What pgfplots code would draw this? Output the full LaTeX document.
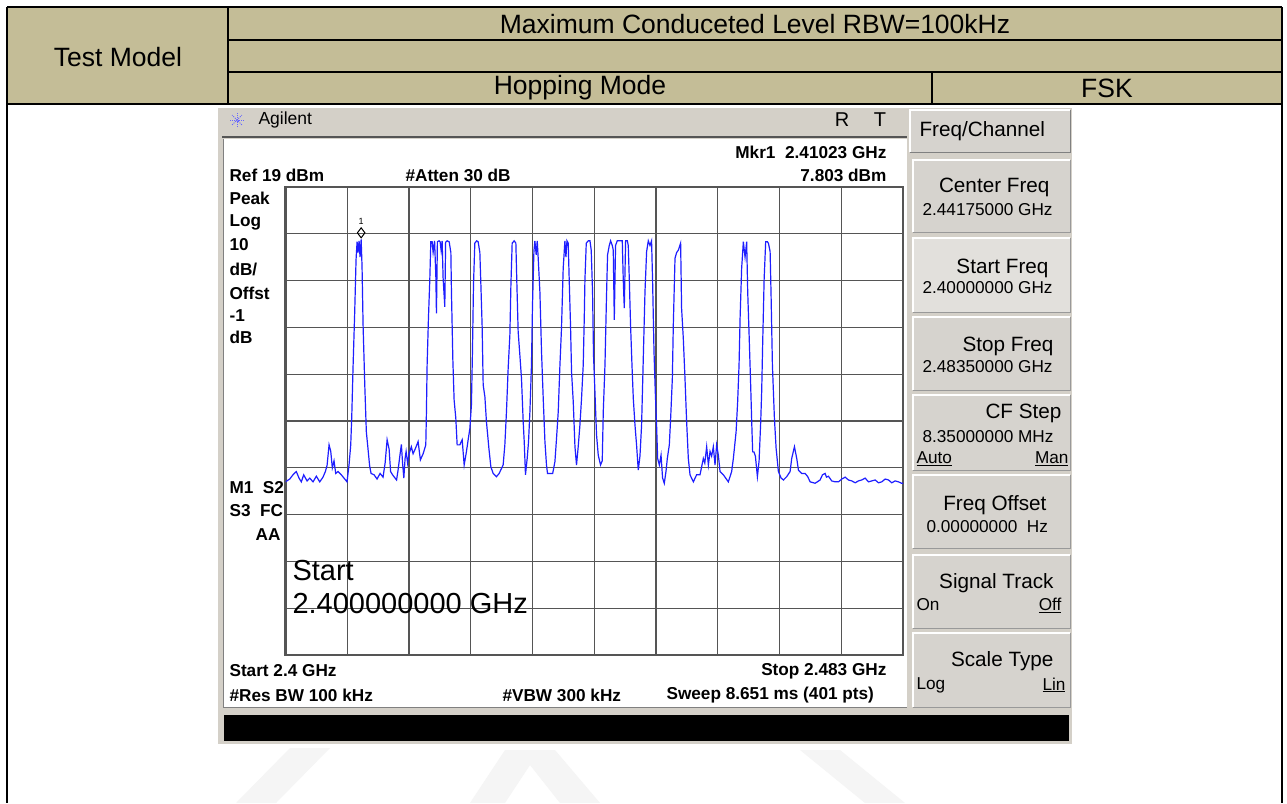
\documentclass[border=0pt]{standalone}
\usepackage{pgfplots}
\pgfplotsset{compat=1.18}
\usepackage{fontspec}
\setmainfont{Liberation Sans}
\definecolor{hdr}{RGB}{196,189,151}
\definecolor{panel}{RGB}{212,208,200}
\definecolor{btn}{RGB}{214,211,206}
\definecolor{btnl}{RGB}{226,224,220}
\definecolor{gridc}{RGB}{85,85,85}
\definecolor{traceblue}{RGB}{30,30,255}
\definecolor{wm}{RGB}{245,245,245}
\newcommand{\fs}[1]{\fontsize{#1}{#1}\selectfont}
\begin{document}
\begin{tikzpicture}
\begin{scope}[x=1pt,y=-1pt]
\useasboundingbox (0,0) rectangle (1287,803);
\fill[white] (0,0) rectangle (1287,803);
% watermark
\fill[wm] (236,803) -- (290,748) -- (330,748) -- (276,803) -- cycle;
\fill[wm] (470,803) -- (505,750) -- (555,750) -- (600,803) -- (560,803) -- (530,765) -- (505,803) -- cycle;
\fill[wm] (800,750) -- (840,750) -- (905,803) -- (865,803) -- cycle;
% header table
\fill[hdr] (7,7) rectangle (1282,104);
\draw[line width=1.6pt] (7,7) -- (1282,7);
\draw[line width=1.6pt] (7,7) -- (7,803);
\draw[line width=1.6pt] (1282,7) -- (1282,803);
\draw[line width=1.6pt] (7,104) -- (1282,104);
\draw[line width=1.6pt] (228,40) -- (1282,40);
\draw[line width=1.6pt] (228,72) -- (1282,72);
\draw[line width=1.6pt] (228,7) -- (228,104);
\draw[line width=1.6pt] (932,72) -- (932,104);
\node[font=\fs{26.5}] at (755,24) {Maximum Conduceted Level RBW=100kHz};
\node[font=\fs{26.5}] at (118,57) {Test Model};
\node[font=\fs{26.5}] at (580,88) {Hopping Mode};
\node[font=\fs{26.5}] at (1107,88) {FSK};
% analyzer panel
\fill[panel] (218,108) rectangle (1072,744);
\fill[white] (223,139) rectangle (907,707);
\draw[gridc, line width=1.5pt] (222,137) -- (907,137);
\draw[gray, line width=0.8pt] (223,139) -- (223,707) -- (907,707);
% star icon
\foreach \a in {0,45,90,135} {\draw[blue!60, line width=0.8pt, dash pattern=on 1.2pt off 1pt] (237,120) ++(\a:7) -- ++(\a+180:14);}
\node[anchor=west, font=\fs{17.5}] at (255,120) {Agilent};
\node[font=\fs{20}] at (842,120) {R};
\node[font=\fs{20}] at (880,120) {T};
% softkeys
\fill[btn] (910,110) rectangle (1070,152);
\draw[white, line width=1.2pt] (910,152) -- (910,110) -- (1070,110);
\draw[gray, line width=1pt] (1070,110) -- (1070,152) -- (910,152);
\node[anchor=west, font=\fs{20.7}] at (916,131) {Freq/Channel};
\foreach \t/\b/\c in {160/232/btn,238/312/btnl,317/390/btn,395/470/btn,475/548/btn,555/628/btn,633/707/btn} {
  \fill[\c] (913,\t) rectangle (1070,\b);
  \draw[white, line width=1.5pt] (913,\b) -- (913,\t) -- (1070,\t);
  \draw[gray!80, line width=1pt] (1070,\t) -- (1070,\b) -- (913,\b);
}
\node[anchor=east, font=\fs{20.7}] at (1053,187) {Center Freq};
\node[anchor=west, font=\fs{17.2}] at (919,210) {2.44175000 GHz};
\node[anchor=east, font=\fs{20.7}] at (1052,268) {Start Freq};
\node[anchor=west, font=\fs{17.2}] at (919,288) {2.40000000 GHz};
\node[anchor=east, font=\fs{20.7}] at (1057,346) {Stop Freq};
\node[anchor=west, font=\fs{17.2}] at (919,367) {2.48350000 GHz};
\node[anchor=east, font=\fs{20.7}] at (1065,413) {CF Step};
\node[anchor=west, font=\fs{17.2}] at (919,437) {8.35000000 MHz};
\node[anchor=west, font=\fs{17.2}] at (913,459) {\underline{Auto}};
\node[anchor=east, font=\fs{17.2}] at (1072,459) {\underline{Man}};
\node[anchor=east, font=\fs{20.7}] at (1050,505) {Freq Offset};
\node[anchor=west, font=\fs{17.2}] at (923,527) {0.00000000\ \ Hz};
\node[anchor=east, font=\fs{20.7}] at (1057,583) {Signal Track};
\node[anchor=west, font=\fs{17.2}] at (913,605) {On};
\node[anchor=east, font=\fs{17.2}] at (1065,605) {\underline{Off}};
\node[anchor=east, font=\fs{20.7}] at (1057,661) {Scale Type};
\node[anchor=west, font=\fs{17.2}] at (913,685) {Log};
\node[anchor=east, font=\fs{17.2}] at (1069,685) {\underline{Lin}};
% black bar
\fill[black] (224,715) rectangle (1069,741);
% screen annotations
\node[anchor=east, font=\fs{17.2}\bfseries] at (890,152) {Mkr1\ \ 2.41023 GHz};
\node[anchor=west, font=\fs{17.2}\bfseries] at (226,175) {Ref 19 dBm};
\node[anchor=west, font=\fs{17.2}\bfseries] at (402,175) {\#Atten 30 dB};
\node[anchor=east, font=\fs{17.2}\bfseries] at (890,175) {7.803 dBm};
\node[anchor=west, font=\fs{17.2}\bfseries] at (226,198) {Peak};
\node[anchor=west, font=\fs{17.2}\bfseries] at (226,222) {Log};
\node[anchor=west, font=\fs{17.2}\bfseries] at (226,245) {10};
\node[anchor=west, font=\fs{17.2}\bfseries] at (226,269) {dB/};
\node[anchor=west, font=\fs{17.2}\bfseries] at (226,293) {Offst};
\node[anchor=west, font=\fs{17.2}\bfseries] at (226,316) {-1};
\node[anchor=west, font=\fs{17.2}\bfseries] at (226,337) {dB};
\node[anchor=west, font=\fs{17.2}\bfseries] at (226,488) {M1\ \ S2};
\node[anchor=west, font=\fs{17.2}\bfseries] at (226,511) {S3\ \ FC};
\node[anchor=east, font=\fs{17.2}\bfseries] at (284,535) {AA};
\node[anchor=west, font=\fs{17.2}\bfseries] at (226,671) {Start 2.4 GHz};
\node[anchor=east, font=\fs{17.2}\bfseries] at (890,671) {Stop 2.483 GHz};
\node[anchor=west, font=\fs{17.2}\bfseries] at (226,695) {\#Res BW 100 kHz};
\node[anchor=west, font=\fs{17.2}\bfseries] at (499,695) {\#VBW 300 kHz};
\node[anchor=west, font=\fs{17.2}\bfseries] at (663,695) {Sweep 8.651 ms (401 pts)};
\end{scope}
\begin{axis}[
  at={(285.5pt,-655pt)}, anchor=south west,
  scale only axis, width=617.5pt, height=468pt,
  xmin=2400, xmax=2483.5, ymin=-81, ymax=19,
  xtick={2408.35,2416.7,2425.05,2433.4,2441.75,2450.1,2458.45,2466.8,2475.15},
  ytick={-71,-61,-51,-41,-31,-21,-11,-1,9},
  xticklabels={}, yticklabels={}, major tick length=0pt,
  grid=major, grid style={line width=1.25pt, gridc},
  axis line style={line width=2.2pt, gridc},
]
\addplot[traceblue, line width=1.2pt] coordinates {
(2400.00,-44.0)(2400.57,-43.4)(2401.01,-42.5)(2401.46,-41.8)(2401.83,-43.2)(2402.14,-44.0)
(2402.46,-42.5)(2402.91,-43.8)(2403.28,-43.2)(2403.72,-44.0)(2404.17,-42.8)(2404.63,-44.0)
(2405.07,-43.0)(2405.39,-41.8)(2405.62,-40.5)(2405.89,-36.1)(2406.12,-37.5)(2406.33,-41.0)
(2406.56,-39.5)(2406.79,-42.2)(2407.10,-41.8)(2407.55,-42.5)(2408.01,-43.4)(2408.32,-44.0)
(2408.59,-40.4)(2408.82,-36.1)(2408.96,-30.0)(2409.13,-19.7)(2409.36,-7.6)(2409.54,3.5)
(2409.68,7.3)(2409.81,5.0)(2409.95,7.5)(2410.08,4.0)(2410.23,7.8)(2410.35,2.0)
(2410.49,-10.5)(2410.72,-23.3)(2410.93,-33.3)(2411.16,-37.0)(2411.37,-40.5)(2411.57,-42.2)
(2411.98,-42.5)(2412.38,-43.4)(2412.79,-42.2)(2413.19,-43.0)(2413.47,-40.0)(2413.74,-35.0)
(2414.01,-37.0)(2414.21,-41.8)(2414.48,-42.5)(2414.82,-43.2)(2415.02,-43.6)(2415.22,-41.5)
(2415.50,-38.0)(2415.67,-36.0)(2415.83,-40.0)(2416.00,-43.2)(2416.17,-39.0)(2416.31,-37.5)
(2416.51,-40.0)(2416.71,-38.0)(2417.02,-36.5)(2417.25,-38.0)(2417.53,-37.0)(2417.93,-35.4)
(2418.24,-39.3)(2418.61,-38.0)(2418.97,-36.1)(2419.05,-29.7)(2419.15,-19.0)(2419.33,-9.0)
(2419.51,-0.9)(2419.65,7.3)(2419.83,7.3)(2419.96,5.0)(2420.16,7.5)(2420.33,-0.2)
(2420.41,-8.0)(2420.54,7.3)(2420.77,7.5)(2420.91,7.3)(2421.04,5.5)(2421.18,7.5)
(2421.31,-0.4)(2421.54,-6.6)(2421.65,7.2)(2421.86,7.5)(2422.13,7.3)(2422.36,5.0)
(2422.44,-3.4)(2422.63,-18.0)(2422.80,-26.5)(2423.03,-30.4)(2423.21,-36.1)(2423.57,-36.1)
(2423.89,-35.0)(2424.16,-40.4)(2424.47,-37.5)(2424.70,-35.0)(2424.93,-32.6)(2425.14,-27.6)
(2425.28,-16.2)(2425.42,-1.9)(2425.60,7.0)(2425.85,7.5)(2426.05,7.3)(2426.28,5.0)
(2426.42,-1.9)(2426.59,-10.8)(2426.73,-23.3)(2426.96,-25.8)(2427.17,-31.1)(2427.50,-36.8)
(2427.77,-40.8)(2428.08,-42.2)(2428.53,-42.9)(2428.89,-42.2)(2429.43,-40.4)(2429.66,-36.1)
(2429.88,-29.0)(2430.11,-19.7)(2430.34,-12.6)(2430.48,-1.9)(2430.65,7.0)(2430.92,7.5)
(2431.15,7.0)(2431.29,-1.9)(2431.46,-11.9)(2431.69,-16.9)(2431.91,-21.9)(2432.14,-31.1)
(2432.28,-35.4)(2432.45,-42.5)(2432.68,-39.0)(2432.86,-35.5)(2433.05,-29.0)(2433.26,-19.0)
(2433.40,-6.2)(2433.59,5.2)(2433.72,7.5)(2433.90,4.5)(2434.04,7.5)(2434.17,3.8)
(2434.40,-3.4)(2434.62,-16.2)(2434.85,-26.2)(2435.08,-35.4)(2435.29,-40.4)(2435.43,-42.2)
(2435.80,-42.2)(2436.13,-42.2)(2436.43,-39.7)(2436.65,-34.7)(2436.88,-29.0)(2437.11,-19.0)
(2437.32,-11.2)(2437.55,1.6)(2437.78,7.5)(2437.92,4.0)(2438.06,7.5)(2438.23,7.0)
(2438.37,-1.2)(2438.54,-10.5)(2438.68,-20.5)(2438.91,-26.9)(2439.14,-36.5)(2439.35,-40.4)
(2439.58,-36.5)(2439.81,-31.9)(2440.03,-26.2)(2440.26,-19.0)(2440.40,-9.0)(2440.49,-0.8)
(2440.67,7.0)(2440.94,7.5)(2441.17,7.5)(2441.34,5.5)(2441.52,-3.4)(2441.65,-16.9)
(2441.84,-24.7)(2442.06,-34.0)(2442.29,-38.3)(2442.60,-40.4)(2442.83,-39.5)(2442.97,-29.0)
(2443.20,-19.0)(2443.41,-4.1)(2443.55,4.5)(2443.78,6.5)(2443.96,7.5)(2444.19,6.5)
(2444.32,5.5)(2444.46,-9.4)(2444.63,6.5)(2444.86,7.5)(2445.23,7.5)(2445.54,7.5)
(2445.67,-0.8)(2445.81,-6.9)(2445.99,7.5)(2446.22,7.5)(2446.35,6.5)(2446.49,-0.8)
(2446.66,-10.5)(2446.85,-19.0)(2447.03,-26.2)(2447.26,-31.9)(2447.47,-36.1)(2447.70,-41.5)
(2447.93,-38.5)(2448.15,-31.9)(2448.38,-17.6)(2448.61,-3.4)(2448.83,5.2)(2449.06,7.5)
(2449.29,6.5)(2449.50,7.5)(2449.64,-1.2)(2449.83,-16.2)(2450.00,-24.7)(2450.18,-31.9)
(2450.32,-39.0)(2450.55,-40.4)(2450.78,-38.3)(2450.99,-43.2)(2451.22,-44.3)(2451.45,-41.8)
(2451.63,-39.0)(2451.90,-36.1)(2452.08,-30.4)(2452.31,-21.9)(2452.44,-10.5)(2452.67,3.8)
(2452.89,5.0)(2453.12,5.5)(2453.43,7.0)(2453.56,-6.9)(2453.79,-13.3)(2454.02,-21.9)
(2454.24,-31.1)(2454.47,-39.0)(2454.70,-42.5)(2455.15,-44.0)(2455.59,-42.5)(2456.05,-42.5)
(2456.50,-39.0)(2456.70,-40.0)(2456.95,-36.5)(2457.18,-40.4)(2457.41,-37.5)(2457.62,-38.5)
(2457.85,-36.5)(2458.08,-40.4)(2458.30,-36.1)(2458.53,-38.3)(2458.76,-41.8)(2459.21,-42.5)
(2459.88,-44.0)(2460.33,-41.8)(2460.56,-39.0)(2460.93,-33.3)(2461.14,-26.9)(2461.33,-19.0)
(2461.47,-9.0)(2461.68,1.6)(2461.91,7.3)(2462.14,4.0)(2462.36,7.3)(2462.50,-3.4)
(2462.69,-12.6)(2462.90,-23.3)(2463.04,-31.1)(2463.17,-37.6)(2463.34,-37.6)(2463.54,-38.5)
(2463.81,-42.9)(2464.04,-39.5)(2464.26,-31.1)(2464.39,-24.7)(2464.53,-14.0)(2464.72,-0.8)
(2464.93,7.3)(2465.16,7.3)(2465.30,7.0)(2465.53,5.2)(2465.66,-4.1)(2465.84,-19.0)
(2466.11,-30.4)(2466.34,-36.8)(2466.65,-41.8)(2467.02,-43.2)(2467.33,-43.6)(2467.77,-42.9)
(2468.23,-41.8)(2468.45,-39.0)(2468.82,-36.5)(2469.13,-39.0)(2469.36,-41.5)(2469.80,-42.2)
(2470.26,-42.2)(2470.62,-42.9)(2470.94,-44.0)(2471.62,-44.3)(2472.29,-43.6)(2472.61,-42.5)
(2472.97,-42.2)(2473.15,-43.0)(2473.42,-42.8)(2473.86,-43.8)(2474.32,-44.0)(2474.77,-44.0)
(2475.22,-43.4)(2475.68,-43.0)(2476.12,-43.6)(2476.57,-43.8)(2477.03,-44.2)(2477.48,-43.8)
(2477.92,-43.6)(2478.38,-43.2)(2478.83,-44.0)(2479.28,-43.8)(2479.74,-43.6)(2480.18,-44.2)
(2480.63,-44.0)(2481.09,-43.4)(2481.54,-43.6)(2481.98,-44.2)(2482.44,-43.8)(2482.89,-44.0)
(2483.30,-44.3)(2483.50,-44.3)
};
\addplot[black, line width=1pt, only marks, mark=diamond, mark size=5pt] coordinates {(2410.23,9.2)}
  node[pos=0, above=5pt, font=\fs{9}] {1};
\end{axis}
\begin{scope}[x=1pt,y=-1pt]
\node[anchor=west, font=\fs{29}] at (289,571) {Start};
\node[anchor=west, font=\fs{29}] at (289,604) {2.400000000 GHz};
\end{scope}
\end{tikzpicture}
\end{document}
